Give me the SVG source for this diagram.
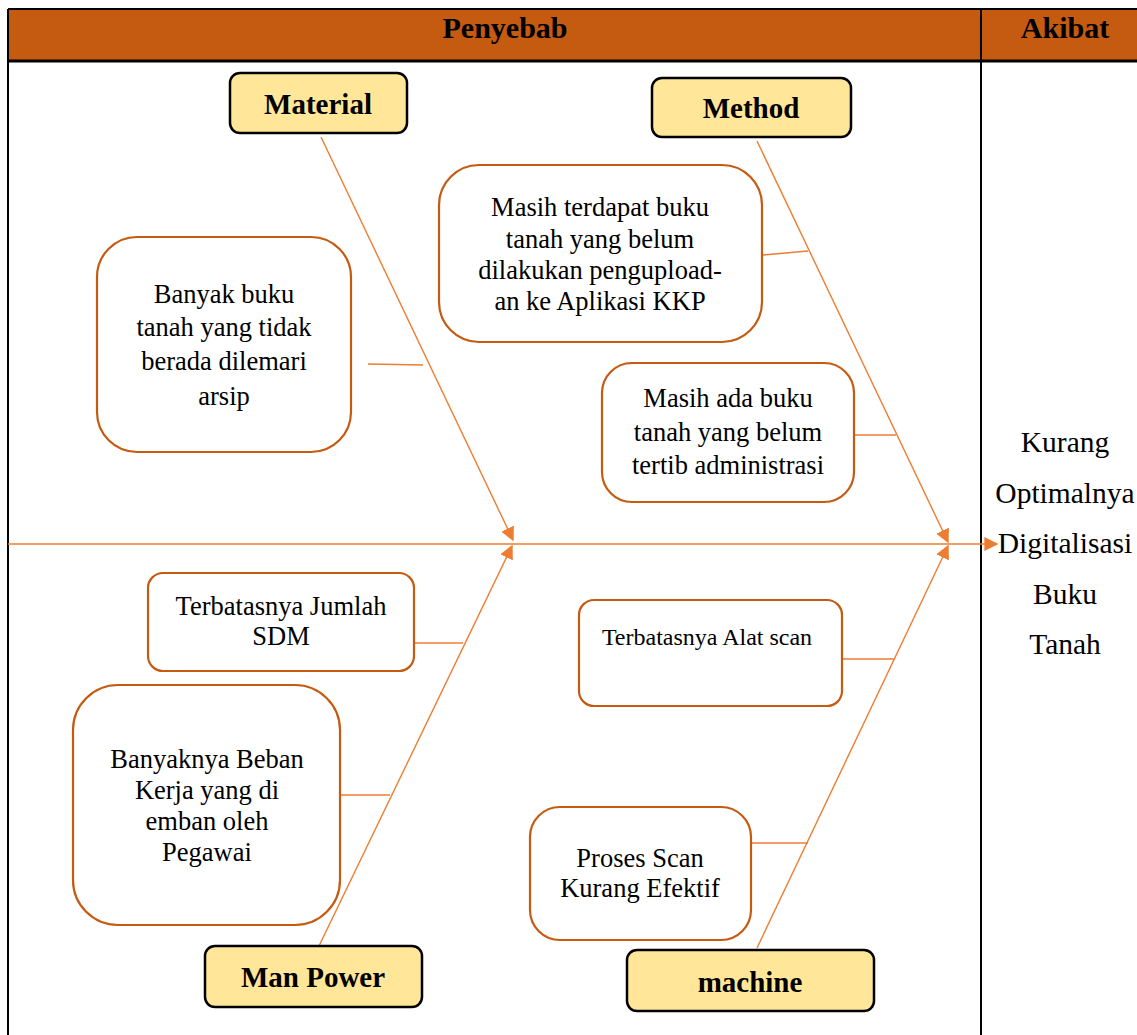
<svg xmlns="http://www.w3.org/2000/svg" width="1137" height="1035" viewBox="0 0 1137 1035" font-family="'Liberation Serif', 'Times New Roman', Tinos, 'DejaVu Serif', serif">
<style>
text{font-family:'Liberation Serif','Times New Roman',Tinos,'DejaVu Serif',serif}
.hdr{font-weight:bold;font-size:30px;fill:#000;text-anchor:middle}
.cat rect{fill:#FFE699;stroke:#000;stroke-width:2.5}
.cat text{font-weight:bold;font-size:29px;fill:#000;text-anchor:middle}
.cause rect{fill:#fff;stroke:#C55A11;stroke-width:2.2}
.cause text{font-size:26.5px;fill:#000;text-anchor:middle}
.eff{font-size:29.5px;fill:#000;text-anchor:middle}
.ln{stroke:#ED7D31;stroke-width:1.4;fill:none}
</style>
<defs>
<marker id="ah" viewBox="0 0 10 10" refX="9" refY="5" markerWidth="14" markerHeight="14" markerUnits="userSpaceOnUse" orient="auto">
<path d="M0,0 L10,5 L0,10 z" fill="#ED7D31"/>
</marker>
</defs>
<rect x="0" y="0" width="1137" height="1035" fill="#fff"/>
<g id="table">
<rect x="8" y="9" width="1140" height="52" fill="#C55A11"/>
<line x1="8" y1="9" x2="1137" y2="9" stroke="#000" stroke-width="2"/>
<line x1="8" y1="61" x2="1137" y2="61" stroke="#000" stroke-width="3"/>
<line x1="8" y1="9" x2="8" y2="1035" stroke="#000" stroke-width="2"/>
<line x1="981" y1="9" x2="981" y2="1035" stroke="#000" stroke-width="2"/>
<text class="hdr" x="505" y="38">Penyebab</text>
<text class="hdr" x="1065" y="38">Akibat</text>
</g>
<g id="connectors">
<line class="ln" x1="8" y1="544" x2="997" y2="544" marker-end="url(#ah)"/>
<line class="ln" x1="321" y1="137" x2="513" y2="540" marker-end="url(#ah)"/>
<line class="ln" x1="757" y1="141" x2="948" y2="542" marker-end="url(#ah)"/>
<line class="ln" x1="319" y1="946" x2="512" y2="546" marker-end="url(#ah)"/>
<line class="ln" x1="757" y1="948" x2="948" y2="546" marker-end="url(#ah)"/>
<line class="ln" x1="368" y1="364" x2="423" y2="365"/>
<line class="ln" x1="763" y1="255" x2="808" y2="251"/>
<line class="ln" x1="855" y1="435" x2="896" y2="435"/>
<line class="ln" x1="414" y1="643" x2="463" y2="643"/>
<line class="ln" x1="340" y1="795" x2="390" y2="795"/>
<line class="ln" x1="843" y1="659" x2="894" y2="659"/>
<line class="ln" x1="751" y1="843" x2="808" y2="843"/>
</g>
<g id="material" class="cat"><rect x="230" y="73" width="177" height="60" rx="10"/><text x="318" y="114">Material</text></g>
<g id="method" class="cat"><rect x="652" y="78" width="199" height="59" rx="10"/><text x="751" y="118">Method</text></g>
<g id="manpower" class="cat"><rect x="205" y="946" width="217" height="61" rx="10"/><text x="313" y="987">Man Power</text></g>
<g id="machine" class="cat"><rect x="627" y="950" width="247" height="61" rx="10"/><text x="750" y="992">machine</text></g>
<g id="c1" class="cause"><rect x="97" y="237" width="254" height="215" rx="40"/>
<text x="224" y="303">Banyak buku</text><text x="224" y="336">tanah yang tidak</text><text x="224" y="370">berada dilemari</text><text x="224" y="405">arsip</text></g>
<g id="c2" class="cause"><rect x="439" y="165" width="323" height="177" rx="40"/>
<text x="600" y="216">Masih terdapat buku</text><text x="600" y="248">tanah yang belum</text><text x="600" y="279">dilakukan pengupload-</text><text x="600" y="310">an ke Aplikasi KKP</text></g>
<g id="c3" class="cause"><rect x="602" y="363" width="252" height="139" rx="30"/>
<text x="728" y="407">Masih ada buku</text><text x="728" y="441">tanah yang belum</text><text x="728" y="474">tertib administrasi</text></g>
<g id="c4" class="cause"><rect x="148" y="573" width="266" height="98" rx="15"/>
<text x="281" y="615">Terbatasnya Jumlah</text><text x="281" y="645">SDM</text></g>
<g id="c5" class="cause"><rect x="73" y="685" width="267" height="240" rx="45"/>
<text x="207" y="768">Banyaknya Beban</text><text x="207" y="799">Kerja yang di</text><text x="207" y="830">emban oleh</text><text x="207" y="861">Pegawai</text></g>
<g id="c6" class="cause"><rect x="579" y="600" width="263" height="106" rx="15"/>
<text x="707" y="645" style="font-size:24px">Terbatasnya Alat scan</text></g>
<g id="c7" class="cause"><rect x="530" y="807" width="221" height="133" rx="30"/>
<text x="640" y="867">Proses Scan</text><text x="640" y="897">Kurang Efektif</text></g>
<g id="effect">
<text class="eff" x="1065" y="452">Kurang</text>
<text class="eff" x="1065" y="503">Optimalnya</text>
<text class="eff" x="1065" y="553">Digitalisasi</text>
<text class="eff" x="1065" y="604">Buku</text>
<text class="eff" x="1065" y="654">Tanah</text>
</g>
</svg>
